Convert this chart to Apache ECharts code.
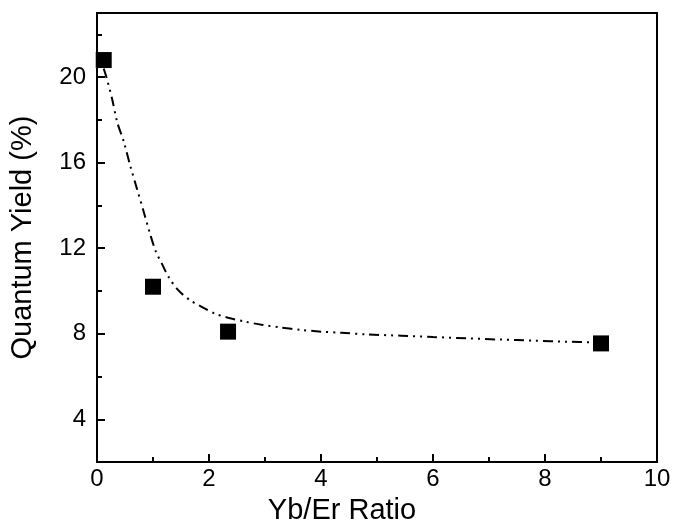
<!DOCTYPE html>
<html>
<head>
<meta charset="utf-8">
<script src="https://cdn.jsdelivr.net/npm/echarts@6/dist/echarts.min.js"></script>
<style>html,body{margin:0;padding:0;background:#fff}#c{width:676px;height:530px}</style>
</head>
<body>
<div id="c"></div>
<script>
// Measured points
var ratioX = [0.12, 1.0, 2.34, 9.0];
var yieldY = [20.8, 10.2, 8.1, 7.55];
// Fitted curve
var fitX = [0.12, 0.17, 0.27, 0.36, 0.48, 0.59, 0.71, 0.83, 0.95, 1.05, 1.16, 1.28, 1.45, 1.66, 1.87, 2.1, 2.34, 2.64, 2.94, 3.29, 3.65, 4.0, 4.36, 4.83, 5.43, 6.0, 6.6, 7.2, 7.8, 8.4, 8.9];
var fitY = [20.4, 19.98, 18.98, 17.9, 16.97, 15.89, 14.81, 13.74, 12.65, 11.85, 11.27, 10.65, 10.04, 9.57, 9.26, 8.95, 8.75, 8.57, 8.42, 8.29, 8.18, 8.1, 8.05, 7.97, 7.91, 7.85, 7.79, 7.73, 7.68, 7.63, 7.6];
var yMajor = [4, 8, 12, 16, 20];
var yMinor = [2, 6, 10, 14, 18, 22];

var FONT = 'Liberation Sans, Arial, sans-serif';
var chart = echarts.init(document.getElementById('c'), null, {renderer: 'canvas'});
chart.setOption({
  animation: false,
  grid: {left: 95, right: 19, top: 13, bottom: 63, show: true, borderColor: '#000', borderWidth: 2, backgroundColor: 'transparent'},
  xAxis: {
    type: 'value', min: 0, max: 10, interval: 2,
    name: 'Yb/Er Ratio', nameLocation: 'middle', nameGap: 33,
    nameTextStyle: {fontFamily: FONT, fontSize: 29, color: '#000', padding: [0, 70, 0, 0]},
    axisLine: {lineStyle: {color: '#000', width: 2}},
    axisTick: {inside: true, length: 8, lineStyle: {color: '#000', width: 2}},
    minorTick: {show: true, splitNumber: 2, length: 5, lineStyle: {color: '#000', width: 2}},
    axisLabel: {fontFamily: FONT, fontSize: 24, color: '#000', margin: 5},
    splitLine: {show: false}
  },
  yAxis: [{
    type: 'value', min: 2, max: 23,
    name: 'Quantum Yield (%)', nameLocation: 'middle', nameGap: 60,
    nameTextStyle: {fontFamily: FONT, fontSize: 29, color: '#000'},
    axisLine: {show: true, lineStyle: {color: '#000', width: 2}},
    axisTick: {inside: true, length: 8, customValues: yMajor, lineStyle: {color: '#000', width: 2}},
    axisLabel: {fontFamily: FONT, fontSize: 24, color: '#000', margin: 11, customValues: yMajor},
    splitLine: {show: false}
  }, {
    type: 'value', min: 2, max: 23, position: 'left', offset: 0,
    axisLine: {show: false},
    axisTick: {inside: true, length: 5, customValues: yMinor, lineStyle: {color: '#000', width: 2}},
    axisLabel: {show: false, customValues: yMinor},
    splitLine: {show: false}
  }],
  series: [{
    type: 'line', data: fitX.map(function (x, i) { return [x, fitY[i]]; }),
    showSymbol: false, smooth: 0.3,
    lineStyle: {color: '#000', width: 2, type: [10, 5, 2, 5, 2, 5]},
    z: 2
  }, {
    type: 'scatter', data: ratioX.map(function (x, i) { return [x, yieldY[i]]; }),
    symbol: 'rect', symbolSize: 16,
    itemStyle: {color: '#000', opacity: 1},
    z: 3
  }]
});
</script>
</body>
</html>
